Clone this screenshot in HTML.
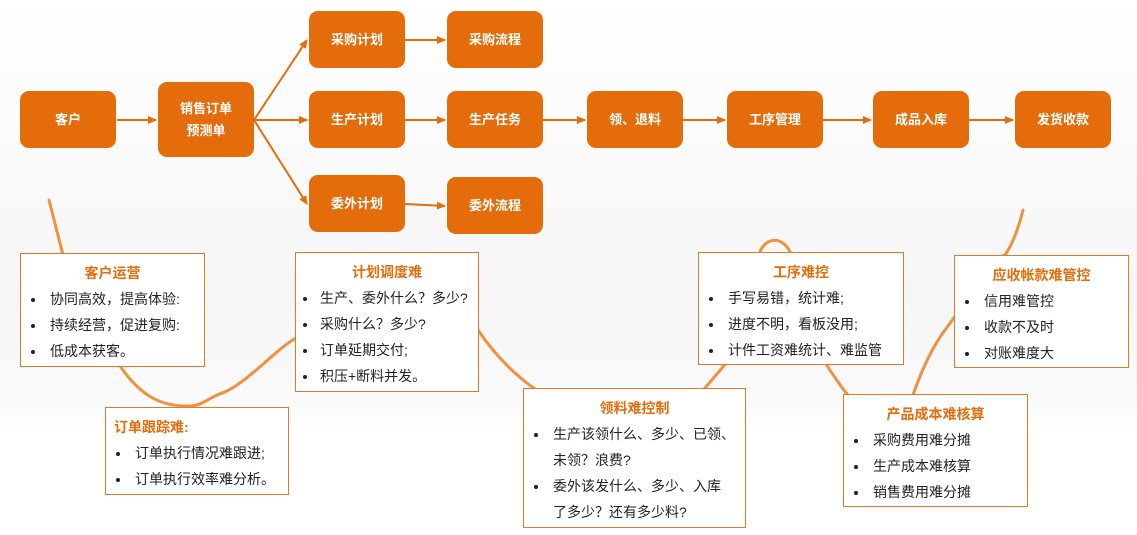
<!DOCTYPE html>
<html><head><meta charset="utf-8"><style>
body{margin:0;width:1137px;height:535px;position:relative;overflow:hidden;background:#fff;font-family:"Liberation Sans","Noto Sans CJK SC",sans-serif}
.bg{position:absolute;left:0;top:0;width:1137px;height:535px;background:linear-gradient(180deg,#fff 0%,#f7f6f6 55%,#fafafa 75%,#fff 80%)}
.n{position:absolute;background:#e46c0a;color:#fff;border-radius:9px;display:flex;align-items:center;justify-content:center;text-align:center;font-size:13px;font-weight:bold;line-height:22px;width:96px;height:57px}
.b{position:absolute;background:#fff;border:1.5px solid #e07a2a;box-sizing:border-box;font-size:14px;color:#222}
.b h{display:block;text-align:center;color:#e46c0a;font-weight:bold;font-size:14px;margin-top:9px;line-height:20px}
.b ul{margin:3px 0 0 0;padding:0 0 0 25px}
.b li{line-height:26px;list-style:disc;padding-left:4px;white-space:nowrap}
svg{position:absolute;left:0;top:0}
</style></head><body>
<div class="bg"></div>
<svg width="1137" height="535">
<defs><marker id="a" markerUnits="userSpaceOnUse" markerWidth="9" markerHeight="8" refX="8" refY="4" orient="auto"><path d="M0,0 L9,4 L0,8z" fill="#e46c0a"/></marker></defs>
<g stroke="#e46c0a" stroke-width="2" fill="none" marker-end="url(#a)">
<line x1="117" y1="120" x2="156" y2="120"/>
<line x1="254" y1="120" x2="307" y2="40"/>
<line x1="254" y1="120" x2="307" y2="120"/>
<line x1="254" y1="120" x2="307" y2="204"/>
<line x1="405" y1="40" x2="445" y2="40"/>
<line x1="405" y1="120" x2="445" y2="120"/>
<line x1="405" y1="204" x2="445" y2="206"/>
<line x1="543" y1="120" x2="585" y2="120"/>
<line x1="683" y1="120" x2="725" y2="120"/>
<line x1="823" y1="120" x2="871" y2="120"/>
<line x1="969" y1="120" x2="1013" y2="120"/>
</g>
<path d="M49,200 L63,255 M120,366 C140,395 160,407 190,406 C205,405 210,396 225,392 C250,380 275,350 296,338 M478,330 C495,355 515,375 535,389 M705,388 C720,370 735,355 745,335 L760,252 C765,238 782,235 790,252 M826,364 C835,378 842,388 848,395 M913,395 C920,375 930,350 945,330 C960,310 975,290 990,260 L1005,255 C1012,245 1018,230 1023,210" stroke="#f0913f" stroke-width="3" fill="none" stroke-linecap="round"/>
</svg>
<div class="n" style="left:20px;top:91px">客户</div>
<div class="n" style="left:158px;top:82px;height:75px">销售订单<br>预测单</div>
<div class="n" style="left:309px;top:11px">采购计划</div>
<div class="n" style="left:447px;top:11px">采购流程</div>
<div class="n" style="left:309px;top:91px">生产计划</div>
<div class="n" style="left:447px;top:91px">生产任务</div>
<div class="n" style="left:309px;top:175px">委外计划</div>
<div class="n" style="left:447px;top:177px">委外流程</div>
<div class="n" style="left:587px;top:91px">领、退料</div>
<div class="n" style="left:727px;top:91px">工序管理</div>
<div class="n" style="left:873px;top:91px">成品入库</div>
<div class="n" style="left:1015px;top:91px">发货收款</div>

<div class="b" style="left:20px;top:253px;width:185px;height:114px"><h>客户运营</h><ul><li>协同高效，提高体验:</li><li>持续经营，促进复购:</li><li>低成本获客。</li></ul></div>
<div class="b" style="left:105px;top:407px;width:184px;height:88px"><h style="text-align:left;padding-left:8px">订单跟踪难:</h><ul><li>订单执行情况难跟进;</li><li>订单执行效率难分析。</li></ul></div>
<div class="b" style="left:295px;top:252px;width:184px;height:140px"><h>计划调度难</h><ul style="padding-left:22px"><li style="padding-left:2px">生产、委外什么？多少?</li><li style="padding-left:2px">采购什么？多少?</li><li style="padding-left:2px">订单延期交付;</li><li style="padding-left:2px">积压+断料并发。</li></ul></div>
<div class="b" style="left:523px;top:388px;width:223px;height:140px"><h>领料难控制</h><ul><li>生产该领什么、多少、已领、<br>未领？浪费?</li><li>委外该发什么、多少、入库<br>了多少？还有多少料?</li></ul></div>
<div class="b" style="left:698px;top:252px;width:206px;height:113px"><h>工序难控</h><ul><li>手写易错，统计难;</li><li>进度不明，看板没用;</li><li>计件工资难统计、难监管</li></ul></div>
<div class="b" style="left:843px;top:394px;width:185px;height:113px"><h>产品成本难核算</h><ul><li>采购费用难分摊</li><li>生产成本难核算</li><li>销售费用难分摊</li></ul></div>
<div class="b" style="left:954px;top:255px;width:175px;height:113px"><h>应收帐款难管控</h><ul><li>信用难管控</li><li>收款不及时</li><li>对账难度大</li></ul></div>
</body></html>
